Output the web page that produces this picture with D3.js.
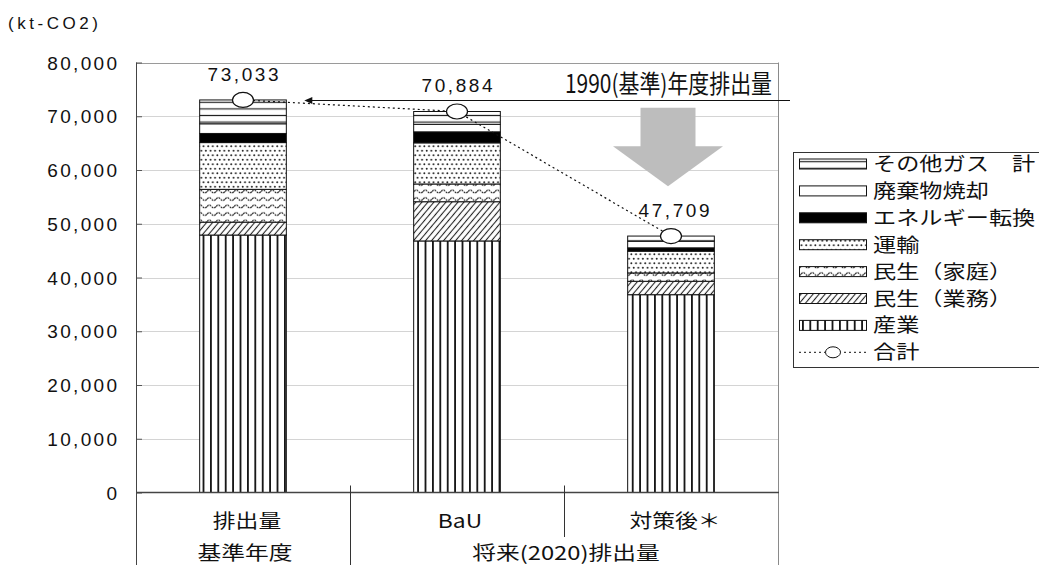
<!DOCTYPE html>
<html>
<head>
<meta charset="utf-8">
<script src="https://cdn.jsdelivr.net/npm/d3@7"></script>
<style>
  body { margin: 0; background: #fff; }
  svg { display: block; }
</style>
</head>
<body>
<svg id="chart" width="1039" height="565"></svg>
<script>
// ---- data (kt-CO2) ----
const categories = ["排出量", "BaU", "対策後＊"];
const groupLabels = ["基準年度", "将来(2020)排出量"];
const groupSpans = [[0, 0], [1, 2]];

const sangyo      = [47900, 46800, 36800]; // 産業
const minseiGyomu = [2400, 7300, 2500];    // 民生（業務）
const minseiKatei = [6100, 3300, 1550];    // 民生（家庭）
const unyu        = [8700, 7650, 4050];    // 運輸
const energy      = [1700, 2050, 620];     // エネルギー転換
const haikibutsu  = [1800, 1400, 1230];    // 廃棄物焼却
const sonota      = [4433, 2384, 959];     // その他ガス 計
const totals      = [73033, 70884, 47709]; // 合計

const seriesKeys  = ["sangyo", "gyomu", "katei", "unyu", "energy", "haiki", "sonota"];
const seriesNames = ["産業", "民生（業務）", "民生（家庭）", "運輸", "エネルギー転換", "廃棄物焼却", "その他ガス　計"];
const seriesValues = [sangyo, minseiGyomu, minseiKatei, unyu, energy, haikibutsu, sonota];

const yTicks = [0, 10000, 20000, 30000, 40000, 50000, 60000, 70000, 80000];
const unitLabel = "(kt-CO2)";
const baseLineLabel = "1990(基準)年度排出量";

// ---- setup ----
const svg = d3.select("#chart");
const JP = "'Noto Sans CJK JP', 'Noto Sans', sans-serif";
const NUM = "'Liberation Sans', Arial, sans-serif";

const plot = { left: 136, right: 778, top: 62.5, bottom: 492.5 };
const y = d3.scaleLinear().domain([0, 80000]).range([plot.bottom, plot.top]);
const x = d3.scaleBand().domain(categories).range([plot.left, plot.right]).padding(0);
const barW = x.bandwidth() * 0.405;
const cx = c => x(c) + x.bandwidth() / 2;

const fmt = d3.format(",");

// stretch text horizontally
function widen(sel, k, mode) {
  sel.each(function () {
    const w = this.getComputedTextLength();
    this.setAttribute("textLength", w * k);
    this.setAttribute("lengthAdjust", mode || "spacingAndGlyphs");
  });
}

// ---- fill patterns ----
const defs = svg.append("defs");
function pat(id, w, h, extra) {
  const p = defs.append("pattern").attr("id", id)
    .attr("patternUnits", "userSpaceOnUse").attr("width", w).attr("height", h);
  if (extra) p.attr("patternTransform", extra);
  p.append("rect").attr("width", w).attr("height", h).attr("fill", "#fff");
  return p;
}
// 産業: vertical stripes
pat("p-sangyo", 7.4, 10).append("line")
  .attr("x1", 3.7).attr("x2", 3.7).attr("y1", 0).attr("y2", 10)
  .attr("stroke", "#111").attr("stroke-width", 1.8);
// 民生（業務）: diagonal hatch
pat("p-gyomu", 4.6, 10, "rotate(40)").append("line")
  .attr("x1", 2.3).attr("x2", 2.3).attr("y1", 0).attr("y2", 10)
  .attr("stroke", "#222").attr("stroke-width", 1.1);
// 民生（家庭）: wavy lines
pat("p-katei", 9, 7.5).append("path")
  .attr("d", "M0,4 Q2.25,1.2 4.5,4 T9,4")
  .attr("fill", "none").attr("stroke", "#111").attr("stroke-width", 1.1)
  .attr("stroke-dasharray", "2,0.8");
// 運輸: staggered dots
{
  const p = pat("p-unyu", 4.6, 9);
  p.append("circle").attr("cx", 1.2).attr("cy", 2.2).attr("r", 0.95).attr("fill", "#222");
  p.append("circle").attr("cx", 3.5).attr("cy", 6.7).attr("r", 0.95).attr("fill", "#222");
}
// その他ガス: horizontal lines
pat("p-sonota", 10, 6.6).append("line")
  .attr("x1", 0).attr("x2", 10).attr("y1", 3.3).attr("y2", 3.3)
  .attr("stroke", "#222").attr("stroke-width", 1.2);

const fills = {
  sangyo: "url(#p-sangyo)", gyomu: "url(#p-gyomu)", katei: "url(#p-katei)",
  unyu: "url(#p-unyu)", energy: "#000", haiki: "#fff", sonota: "url(#p-sonota)"
};

// ---- grid ----
svg.append("g").selectAll("line").data(yTicks.filter(d => d > 0)).join("line")
  .attr("x1", plot.left).attr("x2", plot.right)
  .attr("y1", d => Math.round(y(d)) + 0.5).attr("y2", d => Math.round(y(d)) + 0.5)
  .attr("stroke", d => d === 80000 ? "#9a9a9a" : "#d4d4d4").attr("stroke-width", 1);

// right frame
svg.append("line").attr("x1", plot.right + 0.5).attr("x2", plot.right + 0.5)
  .attr("y1", plot.top).attr("y2", 565).attr("stroke", "#8a8a8a").attr("stroke-width", 1);

// ---- y axis ----
const yAxis = d3.axisLeft(y).tickValues(yTicks).tickFormat(fmt).tickSize(-6).tickPadding(25);
const yg = svg.append("g").attr("transform", `translate(${plot.left},0)`).call(yAxis);
yg.select(".domain").remove();
yg.selectAll(".tick line").attr("stroke", "#555");
yg.selectAll(".tick text").attr("font-family", NUM).attr("font-size", 19)
  .attr("fill", "#111").attr("dy", "0.35em").attr("x", 117 - plot.left);
widen(yg.selectAll(".tick text").filter(d => d > 0), 1.2, "spacing");
svg.append("line").attr("x1", plot.left + 0.5).attr("x2", plot.left + 0.5)
  .attr("y1", plot.top).attr("y2", 565).attr("stroke", "#444").attr("stroke-width", 1);

// unit label
const unit = svg.append("text").attr("x", 8).attr("y", 29)
  .attr("font-family", NUM).attr("font-size", 17).attr("fill", "#111").text(unitLabel);
unit.attr("textLength", 90).attr("lengthAdjust", "spacing");

// ---- stacked bars ----
const rows = categories.map((c, i) => {
  const r = { cat: c };
  seriesKeys.forEach((k, j) => r[k] = seriesValues[j][i]);
  return r;
});
const stacked = d3.stack().keys(seriesKeys)(rows);

svg.append("g").selectAll("g").data(stacked).join("g")
  .attr("fill", s => fills[s.key])
  .selectAll("rect").data(s => s).join("rect")
  .attr("x", d => cx(d.data.cat) - barW / 2)
  .attr("width", barW)
  .attr("y", d => y(d[1]))
  .attr("height", d => y(d[0]) - y(d[1]))
  .attr("stroke", "#111").attr("stroke-width", 1);

// ---- x axis and category table ----
svg.append("line").attr("x1", plot.left).attr("x2", plot.right + 1)
  .attr("y1", plot.bottom).attr("y2", plot.bottom)
  .attr("stroke", "#444").attr("stroke-width", 1.6);

// dividers between categories
categories.forEach((c, i) => {
  if (i === 0) return;
  const xx = x(c) + 0.5;
  const inGroup = groupSpans.some(s => i > s[0] && i <= s[1]);
  svg.append("line").attr("x1", xx).attr("x2", xx)
    .attr("y1", plot.bottom - 7).attr("y2", inGroup ? 537 : 565)
    .attr("stroke", "#333").attr("stroke-width", 1);
});

const catText = svg.append("g").selectAll("text").data(categories).join("text")
  .attr("x", d => cx(d) + (d === "BaU" ? 3 : 4)).attr("y", 528)
  .attr("text-anchor", "middle").attr("font-family", JP).attr("font-size", 19)
  .attr("fill", "#111").text(d => d);
widen(catText, 1.2);

const grpText = svg.append("g").selectAll("text").data(groupLabels).join("text")
  .attr("x", (d, i) => (x(categories[groupSpans[i][0]]) + x(categories[groupSpans[i][1]]) + x.bandwidth()) / 2 + 2)
  .attr("y", 560)
  .attr("text-anchor", "middle").attr("font-family", JP).attr("font-size", 19)
  .attr("fill", "#111").text(d => d);
widen(grpText, 1.25);

// ---- base-year reference line ----
const baseY = Math.round(y(totals[0])) + 0.5;
const arrowTipX = cx(categories[0]) + barW / 2 + 18;
svg.append("line").attr("x1", arrowTipX + 7).attr("x2", plot.right + 12)
  .attr("y1", baseY).attr("y2", baseY).attr("stroke", "#111").attr("stroke-width", 1.2);
svg.append("path")
  .attr("d", `M${arrowTipX},${baseY} l8,-3.5 l0,7 Z`).attr("fill", "#111");

const baseText = svg.append("text").attr("x", 772).attr("y", 93)
  .attr("text-anchor", "end").attr("font-family", JP).attr("font-size", 25)
  .attr("fill", "#111").text(baseLineLabel);
baseText.attr("textLength", 207).attr("lengthAdjust", "spacingAndGlyphs");

// ---- big reduction arrow ----
{
  const ax = cx(categories[2]) - 3;
  const shaftTop = y(71600), headTop = y(64400), tip = y(57000);
  svg.append("path")
    .attr("d", `M${ax - 27.5},${shaftTop} H${ax + 27.5} V${headTop} H${ax + 55}
                L${ax},${tip} L${ax - 55},${headTop} H${ax - 27.5} Z`)
    .attr("fill", "#bdbdbd");
}

// ---- total line, markers and labels ----
const totalPts = categories.map((c, i) => [cx(c), y(totals[i])]);
svg.append("path").attr("d", d3.line()(totalPts))
  .attr("fill", "none").attr("stroke", "#111").attr("stroke-width", 1.2)
  .attr("stroke-dasharray", "2,3");

svg.append("g").selectAll("ellipse").data(totalPts).join("ellipse")
  .attr("cx", d => d[0]).attr("cy", d => d[1]).attr("rx", 10.5).attr("ry", 7.5)
  .attr("fill", "#fff").attr("stroke", "#111").attr("stroke-width", 1.2);

const valText = svg.append("g").selectAll("text").data(totals).join("text")
  .attr("x", (d, i) => cx(categories[i]) + (i === 2 ? 3 : 0))
  .attr("y", d => y(d) - 19)
  .attr("text-anchor", "middle").attr("font-family", NUM).attr("font-size", 19)
  .attr("fill", "#111").text(d => fmt(d));
widen(valText, 1.22, "spacing");

// ---- legend ----
const lg = svg.append("g");
lg.append("rect").attr("x", 793.5).attr("y", 152.5).attr("width", 260).attr("height", 215)
  .attr("fill", "#fff").attr("stroke", "#333").attr("stroke-width", 1);

const legendItems = seriesKeys.map((k, i) => ({ key: k, name: seriesNames[i] })).reverse();
const rowY = i => 164 + i * 26.9;

legendItems.forEach((it, i) => {
  lg.append("rect").attr("x", 799.5).attr("y", rowY(i) - 5).attr("width", 67).attr("height", 10)
    .attr("fill", fills[it.key]).attr("stroke", "#111").attr("stroke-width", 1);
});
// 合計 entry
{
  const ly = rowY(legendItems.length);
  lg.append("line").attr("x1", 799).attr("x2", 867).attr("y1", ly).attr("y2", ly)
    .attr("stroke", "#111").attr("stroke-width", 1).attr("stroke-dasharray", "2,3");
  lg.append("ellipse").attr("cx", 833).attr("cy", ly).attr("rx", 7.5).attr("ry", 5.5)
    .attr("fill", "#fff").attr("stroke", "#111").attr("stroke-width", 1);
}
const legNames = legendItems.map(d => d.name).concat(["合計"]);
const legText = lg.selectAll("text").data(legNames).join("text")
  .attr("x", 873).attr("y", (d, i) => rowY(i) + 7)
  .attr("font-family", JP).attr("font-size", 19).attr("fill", "#111").text(d => d);
widen(legText, 1.22);
</script>
</body>
</html>
